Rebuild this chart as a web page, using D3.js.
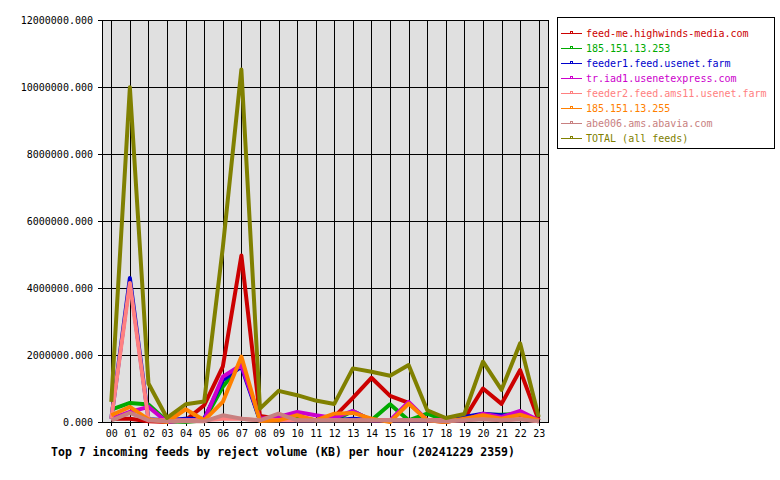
<!DOCTYPE html>
<html>
<head>
<meta charset="utf-8">
<script src="https://cdn.jsdelivr.net/npm/d3@7"></script>
<style>
  body { margin: 0; background: #fff; }
  svg { display: block; }
  text { font-family: "DejaVu Sans Mono", monospace; }
</style>
</head>
<body>
<div id="chart"></div>
<script>
// hourly reject volume (KB)
const hours = ["00","01","02","03","04","05","06","07","08","09","10","11",
               "12","13","14","15","16","17","18","19","20","21","22","23"];

const feedNames = [
  "feed-me.highwinds-media.com",
  "185.151.13.253",
  "feeder1.feed.usenet.farm",
  "tr.iad1.usenetexpress.com",
  "feeder2.feed.ams11.usenet.farm",
  "185.151.13.255",
  "abe006.ams.abavia.com",
  "TOTAL (all feeds)"
];
const feedColors = ["#cc0000", "#00aa00", "#0000cc", "#cc00cc", "#ff8080", "#ff8000", "#c88080", "#808000"];

const feedMe   = [100000, 100000, 20000, 0, 50000, 500000, 1650000, 4970000, 180000, 100000, 80000, 60000,
                  150000, 720000, 1320000, 780000, 570000, 50000, 0, 100000, 1000000, 540000, 1550000, 50000];
const ip253    = [370000, 570000, 520000, 20000, 0, 50000, 1050000, 1750000, 50000, 50000, 120000, 50000,
                  50000, 330000, 50000, 530000, 50000, 250000, 50000, 100000, 220000, 220000, 250000, 20000];
const feeder1  = [100000, 4300000, 80000, 50000, 100000, 100000, 1250000, 1650000, 50000, 50000, 50000, 50000,
                  50000, 100000, 50000, 50000, 50000, 50000, 50000, 150000, 250000, 200000, 200000, 20000];
const iad1     = [100000, 300000, 450000, 0, 50000, 50000, 1350000, 1700000, 100000, 150000, 300000, 200000,
                  120000, 330000, 50000, 50000, 600000, 50000, 50000, 50000, 250000, 150000, 330000, 50000];
const feeder2  = [100000, 4150000, 50000, 50000, 50000, 50000, 100000, 100000, 50000, 50000, 50000, 50000,
                  50000, 50000, 50000, 50000, 50000, 50000, 50000, 50000, 100000, 50000, 100000, 20000];
const ip255    = [200000, 450000, 80000, 0, 380000, 50000, 600000, 1950000, 30000, 50000, 200000, 50000,
                  250000, 270000, 100000, 0, 550000, 50000, 0, 100000, 200000, 100000, 220000, 50000];
const abe006   = [50000, 270000, 50000, 20000, 20000, 20000, 200000, 100000, 50000, 250000, 50000, 50000,
                  50000, 50000, 50000, 50000, 50000, 50000, 20000, 50000, 80000, 50000, 80000, 20000];
const total    = [600000, 9990000, 1150000, 120000, 530000, 610000, 5200000, 10520000, 400000, 930000, 800000, 640000,
                  540000, 1600000, 1500000, 1380000, 1700000, 350000, 120000, 240000, 1800000, 960000, 2350000, 150000];

const seriesValues = [feedMe, ip253, feeder1, iad1, feeder2, ip255, abe006, total];
const yTicks = [0, 2000000, 4000000, 6000000, 8000000, 10000000, 12000000];

const W = 780, H = 480;
const plot = { left: 102, right: 548, top: 20, bottom: 422 };

const svg = d3.select("#chart").append("svg")
  .attr("width", W)
  .attr("height", H);

const x = d3.scaleLinear().domain([-0.5, 23.5]).range([plot.left, plot.right]);
const y = d3.scaleLinear().domain([0, 12000000]).range([plot.bottom, plot.top]);

// plot background
svg.append("rect")
  .attr("x", plot.left).attr("y", plot.top)
  .attr("width", plot.right - plot.left).attr("height", plot.bottom - plot.top)
  .attr("fill", "#e0e0e0");

// grid
const grid = svg.append("g").attr("stroke", "#000").attr("stroke-width", 1).attr("shape-rendering", "crispEdges");
grid.selectAll("line.v").data(hours).join("line")
  .attr("x1", (d, i) => Math.round(x(i)) + 0.5).attr("x2", (d, i) => Math.round(x(i)) + 0.5)
  .attr("y1", plot.top).attr("y2", plot.bottom);
grid.selectAll("line.h").data(yTicks).join("line")
  .attr("x1", plot.left).attr("x2", plot.right)
  .attr("y1", d => Math.round(y(d)) + 0.5).attr("y2", d => Math.round(y(d)) + 0.5);

// axes
const yAxis = svg.append("g")
  .attr("transform", `translate(${plot.left},0)`)
  .call(d3.axisLeft(y).tickValues(yTicks).tickFormat(d3.format(".3f")).tickSize(4).tickPadding(5));
const xAxis = svg.append("g")
  .attr("transform", `translate(0,${plot.bottom})`)
  .call(d3.axisBottom(x).tickValues(d3.range(24)).tickFormat(i => hours[i]).tickSize(4).tickPadding(4));
[yAxis, xAxis].forEach(ax => {
  ax.select(".domain").remove();
  ax.selectAll("line").attr("stroke", "#000").attr("shape-rendering", "crispEdges");
  ax.selectAll("text").attr("fill", "#000").style("font-family", "'DejaVu Sans Mono', monospace").style("font-size", "10px");
});

// border
svg.append("rect")
  .attr("x", plot.left + 0.5).attr("y", plot.top + 0.5)
  .attr("width", plot.right - plot.left).attr("height", plot.bottom - plot.top)
  .attr("fill", "none").attr("stroke", "#000").attr("shape-rendering", "crispEdges");

// series lines
const line = d3.line().x((d, i) => x(i)).y(d => y(d));
svg.append("g")
  .selectAll("path")
  .data(seriesValues)
  .join("path")
  .attr("d", line)
  .attr("fill", "none")
  .attr("stroke", (d, i) => feedColors[i])
  .attr("stroke-width", 4)
  .attr("stroke-linejoin", "round");

// legend
const lg = svg.append("g");
lg.append("rect")
  .attr("x", 557.5).attr("y", 17.5).attr("width", 217).attr("height", 131)
  .attr("fill", "#fff").attr("stroke", "#000");
const item = lg.selectAll("g.item").data(feedNames).join("g")
  .attr("transform", (d, i) => `translate(0,${33 + i * 15})`);
item.append("line")
  .attr("x1", 561).attr("x2", 582).attr("y1", 0.5).attr("y2", 0.5)
  .attr("stroke", (d, i) => feedColors[i]);
item.append("rect")
  .attr("x", 570.5).attr("y", -1.5).attr("width", 2).attr("height", 2)
  .attr("fill", "#fff").attr("stroke", (d, i) => feedColors[i]);
item.append("text")
  .attr("x", 586).attr("y", 3.5)
  .attr("fill", (d, i) => feedColors[i])
  .style("font-size", "10px")
  .text(d => d);

// title
svg.append("text")
  .attr("x", 283).attr("y", 455.5)
  .attr("text-anchor", "middle")
  .style("font-size", "11.5px")
  .style("font-weight", "bold")
  .text("Top 7 incoming feeds by reject volume (KB) per hour (20241229 2359)");
</script>
</body>
</html>
